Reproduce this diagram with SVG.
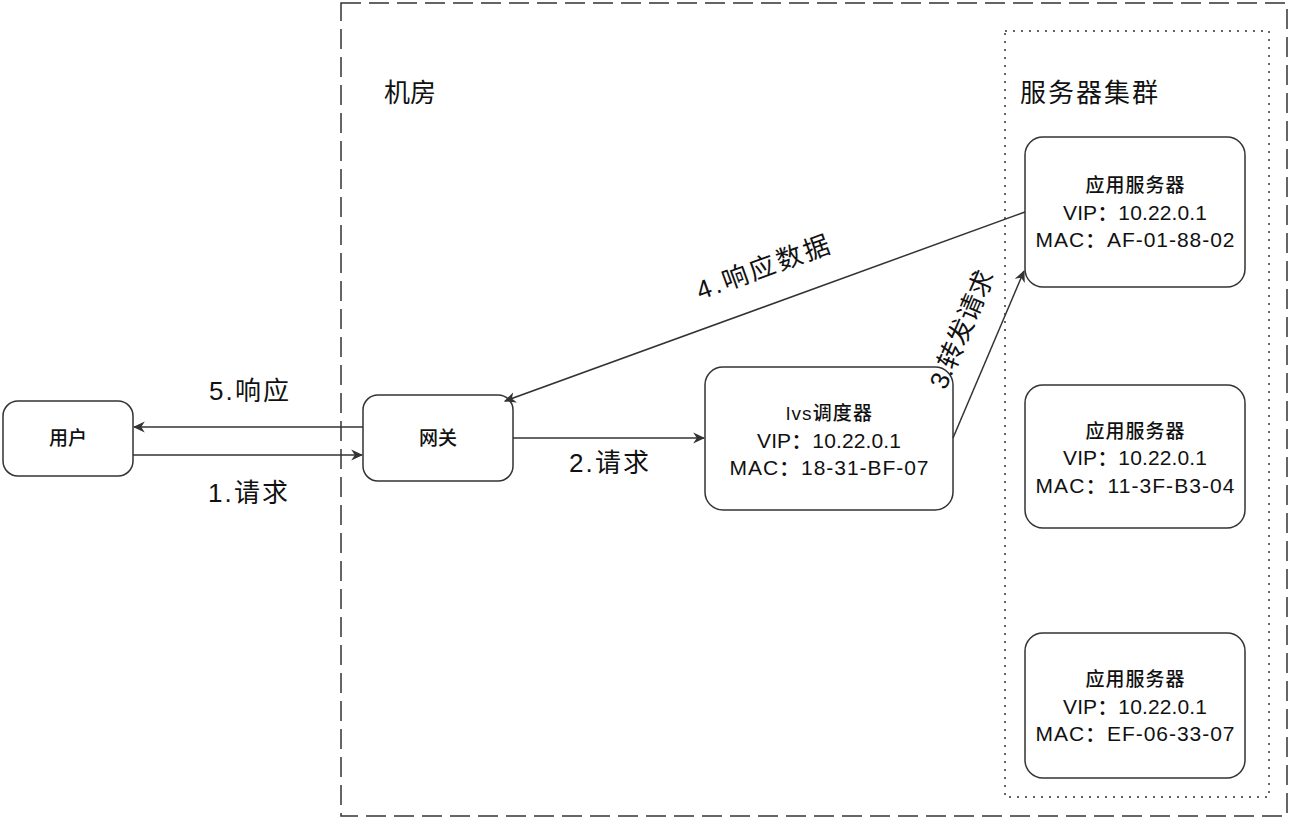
<svg xmlns="http://www.w3.org/2000/svg" width="1290" height="818" viewBox="0 0 1290 818">
<style>
.box{fill:#fff;stroke:#333;stroke-width:1.5}
.t{font-family:"Liberation Sans","Noto Sans CJK SC",sans-serif;fill:#111;text-anchor:middle}
.s{font-size:19px;font-weight:500}
.m{font-size:21px}
.l{font-size:26px}
.c{stroke:#333;stroke-width:1.5;fill:none;marker-end:url(#a)}
</style>
<defs>
<marker id="a" viewBox="0 0 10 10" refX="9" refY="5" markerWidth="12" markerHeight="12" markerUnits="userSpaceOnUse" orient="auto">
<path d="M0,0.5 L10,5 L0,9.5 L3,5 z" fill="#333"/>
</marker>
</defs>
<rect width="1290" height="818" fill="#fff"/>
<g id="room">
<rect x="341" y="3" width="946" height="813" fill="none" stroke="#333" stroke-width="1.5" stroke-dasharray="20 8"/>
<text class="t l" x="410" y="102">机房</text>
</g>
<g id="cluster">
<rect x="1005" y="31" width="264" height="766" fill="none" stroke="#333" stroke-width="1.5" stroke-dasharray="2 6"/>
<text class="t l" x="1089" y="102" textLength="138">服务器集群</text>
</g>
<g id="user">
<rect class="box" x="3" y="401" width="130" height="75" rx="15"/>
<text class="t s" x="68" y="445">用户</text>
</g>
<g id="gateway">
<rect class="box" x="363" y="395" width="150" height="86" rx="15"/>
<text class="t s" x="438" y="445">网关</text>
</g>
<g id="lvs">
<rect class="box" x="705" y="367" width="248" height="143" rx="18"/>
<text class="t s" x="829" y="420" textLength="86">lvs调度器</text>
<text class="t s m" x="829" y="448" textLength="144">VIP：10.22.0.1</text>
<text class="t s m" x="829" y="475" textLength="199">MAC：18-31-BF-07</text>
</g>
<g id="app1">
<rect class="box" x="1025" y="137" width="220" height="150" rx="18"/>
<text class="t s" x="1135" y="192" textLength="99">应用服务器</text>
<text class="t s m" x="1135" y="220" textLength="144">VIP：10.22.0.1</text>
<text class="t s m" x="1135" y="247" textLength="199">MAC：AF-01-88-02</text>
</g>
<g id="app2">
<rect class="box" x="1025" y="385" width="220" height="143" rx="18"/>
<text class="t s" x="1135" y="438" textLength="99">应用服务器</text>
<text class="t s m" x="1135" y="465" textLength="144">VIP：10.22.0.1</text>
<text class="t s m" x="1135" y="493" textLength="199">MAC：11-3F-B3-04</text>
</g>
<g id="app3">
<rect class="box" x="1025" y="633" width="220" height="145" rx="18"/>
<text class="t s" x="1135" y="686" textLength="99">应用服务器</text>
<text class="t s m" x="1135" y="714" textLength="144">VIP：10.22.0.1</text>
<text class="t s m" x="1135" y="741" textLength="199">MAC：EF-06-33-07</text>
</g>
<g id="connectors">
<line class="c" x1="363" y1="427" x2="134" y2="427"/>
<line class="c" x1="133" y1="455" x2="362" y2="455"/>
<line class="c" x1="513" y1="438" x2="704" y2="438"/>
<line class="c" x1="953" y1="438" x2="1024" y2="271"/>
<line class="c" x1="1025" y1="212" x2="505" y2="401"/>
<text class="t l" x="249" y="400" textLength="80">5.响应</text>
<text class="t l" x="248" y="502" textLength="80">1.请求</text>
<text class="t l" x="609" y="472" textLength="80">2.请求</text>
<text class="t l" transform="translate(766,276) rotate(-20)" textLength="140">4.响应数据</text>
<text class="t l" transform="translate(970,333) rotate(-67)">3.转发请求</text>
</g>
</svg>
